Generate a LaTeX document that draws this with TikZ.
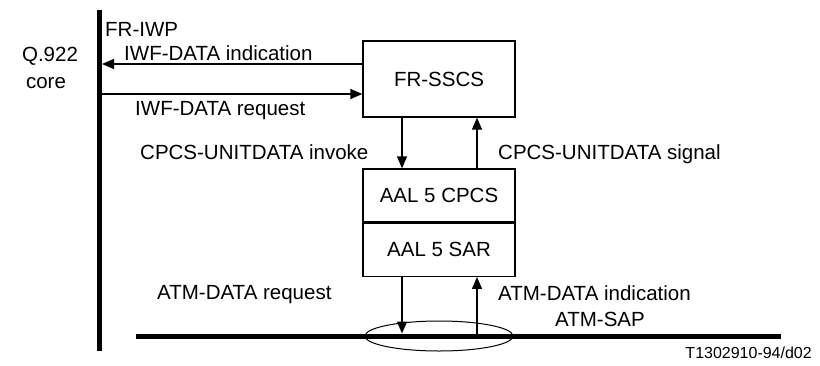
\documentclass[tikz,border=0pt]{standalone}
\usepackage{fontspec}
\setmainfont{Liberation Sans}
\usetikzlibrary{arrows.meta,shapes.geometric}

\begin{document}
\begin{tikzpicture}[x=1pt,y=-1pt,>={Triangle[length=12pt,width=10pt]},font=\fontsize{20.5}{24}\selectfont]
    \tikzstyle{layer}=[draw, line width=1.3pt, minimum width=152pt, inner sep=0pt]
    \tikzstyle{flow}=[->, line width=1.3pt]
    \tikzstyle{plane}=[line width=5pt]
    \tikzstyle{txt}=[anchor=base west, inner sep=0pt]

    \useasboundingbox (0,0) rectangle (820,365);

    % Access points (FR-IWP and ATM-SAP)
    \coordinate (iwptop) at (99.5,10);
    \coordinate (iwpbot) at (99.5,351);
    \coordinate (sapleft) at (136,336);
    \coordinate (sapright) at (781,336);
    \draw[plane] (iwptop) -- (iwpbot);
    \draw[plane] (sapleft) -- (sapright);
    \node[draw, ellipse, line width=1pt, minimum width=148pt, minimum height=30pt] (sap) at (439,336) {};

    % Protocol stack
    \node[layer, minimum height=76pt] (sscs) at (439,79) {FR-SSCS};
    \node[layer, minimum height=53pt] (cpcs) at (439,195.5) {AAL 5 CPCS};
    \node[layer, minimum height=53pt, anchor=north] (sar) at (cpcs.south) {AAL 5 SAR};

    % Primitives
    \coordinate (indend) at ([yshift=15pt]sscs.west);
    \coordinate (reqend) at ([yshift=-15pt]sscs.west);
    \draw[flow, shorten >=2.5pt] (indend) -- (indend -| iwptop);
    \draw[flow] (reqend -| iwptop) -- (reqend);
    \draw[flow] ([xshift=-37pt]sscs.south) -- ([xshift=-37pt]cpcs.north);
    \draw[flow] ([xshift=38pt]cpcs.north) -- ([xshift=38pt]sscs.south);
    \draw[flow, shorten >=2.5pt] ([xshift=-37pt]sar.south) -- ([xshift=-37pt]sap.center);
    \draw[flow] ([xshift=38pt]sap.center) -- ([xshift=38pt]sar.south);

    % Labels
    \node[txt] (iwp) at (105,36) {FR-IWP};
    \node[anchor=base, inner sep=0pt] (q922) at (50,61) {Q.922};
    \node[anchor=base, inner sep=0pt] (core) at (46,88) {core};
    \node[txt] (indlbl) at (124,60) {IWF-DATA indication};
    \node[txt] (reqlbl) at (135,115) {IWF-DATA request};
    \node[txt] (invlbl) at (140,159) {CPCS-UNITDATA invoke};
    \node[txt] (siglbl) at (498,159) {CPCS-UNITDATA signal};
    \node[txt] (atmreq) at (157,299) {ATM-DATA request};
    \node[txt] (atmind) at (498,300) {ATM-DATA indication};
    \node[txt] (saplbl) at (555,326) {ATM-SAP};
    \node[anchor=base east, inner sep=0pt, font=\fontsize{16}{19}\selectfont] (figref) at (812,358) {T1302910-94/d02};
\end{tikzpicture}
\end{document}
